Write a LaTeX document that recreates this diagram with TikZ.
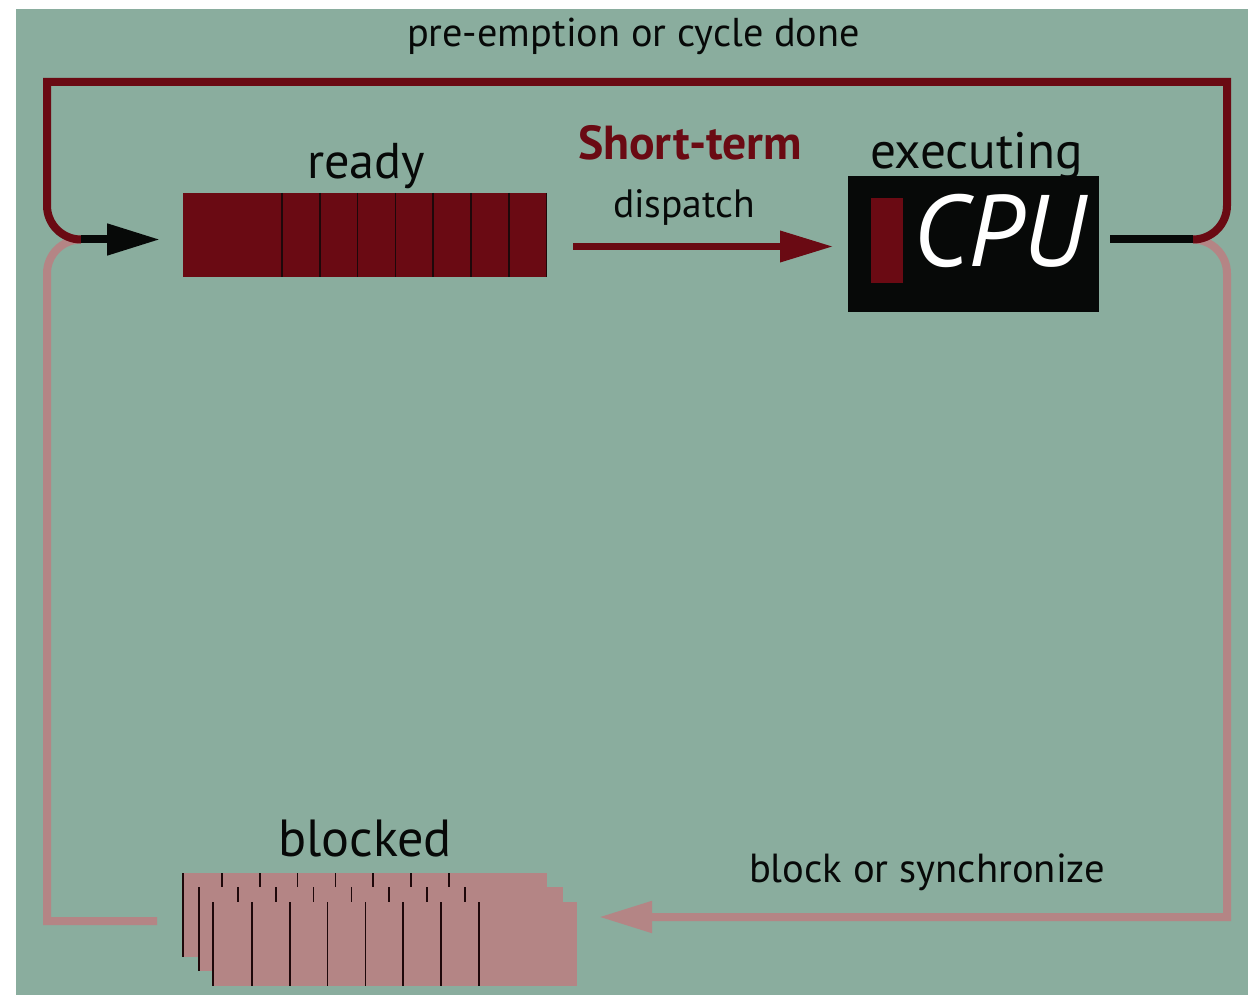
\documentclass[tikz,border=0pt]{standalone}
\usepackage{fontspec}
\setmainfont{PT Sans}
\usepackage{graphicx}
\usetikzlibrary{arrows.meta}
\definecolor{bg}{RGB}{138,173,158}
\definecolor{dred}{RGB}{106,10,19}
\definecolor{pinkq}{RGB}{180,133,133}
\definecolor{blk}{RGB}{7,9,8}
\definecolor{divc}{RGB}{30,8,10}
\newcommand\fitw[2]{\resizebox{#1}{!}{#2}}
\begin{document}
\begin{tikzpicture}[x=1pt,y=-1pt,
  lbl/.style={inner sep=0pt, outer sep=0pt, anchor=base west, text=blk, font=\fontsize{36}{43}\selectfont},
  qbox/.style={inner sep=0pt, outer sep=0pt, anchor=north west, minimum width=364pt, minimum height=84pt},
  readyq/.style={qbox, fill=dred},
  blockq/.style={qbox, fill=pinkq},
  divider/.style={draw=divc, line width=1.6pt},
  edgeline/.style={draw=divc, line width=2.2pt},
  loopred/.style={draw=dred, line width=8pt},
  looppink/.style={draw=pinkq, line width=8pt},
  blackline/.style={draw=blk, line width=8pt},
  tip/.style={-{Triangle[length=53pt,width=30pt]}}
]
\useasboundingbox (0,0) rectangle (1248,995);
\fill[bg] (16,9) rectangle (1248,995);

% ready queue
\node[readyq] (ready) at (183,193) {};
\foreach \i in {0,...,6} \draw[divider] ({282+37.8*\i},193) -- ++(0,84);
\draw[divider] (546.5,193) -- ++(0,84);

% CPU
\node[inner sep=0pt, outer sep=0pt, anchor=north west, fill=blk, minimum width=251pt, minimum height=136pt] (cpu) at (848,176) {};
\node[inner sep=0pt, outer sep=0pt, anchor=north west, fill=dred, minimum width=32pt, minimum height=85pt] (core) at (871,198) {};
\node[lbl, text=white] (cpulbl) at (913,267) {\fitw{172pt}{\itshape CPU}};

% blocked queues
\foreach \n/\x/\y in {1/183/873, 2/199/887, 3/213/902} {
  \node[blockq] (blk\n) at (\x,\y) {};
  \draw[edgeline] (blk\n.north west) -- (blk\n.south west);
  \foreach \i in {0,...,6} \draw[divider] ({\x+39+37.8*\i},\y) -- ++(0,84);
}

% labels
\node[lbl] (lpre) at (407,47) {\fitw{453pt}{pre-emption or cycle done}};
\node[lbl] (lready) at (307,179) {\fitw{118pt}{ready}};
\node[lbl, text=dred] (lshort) at (578,160) {\fitw{224pt}{\bfseries Short-term}};
\node[lbl] (ldisp) at (613,218) {\fitw{142pt}{dispatch}};
\node[lbl] (lexec) at (870,169) {\fitw{213pt}{executing}};
\node[lbl] (lblocked) at (278,856) {\fitw{174pt}{blocked}};
\node[lbl] (lblock) at (749,882) {\fitw{356pt}{block or synchronize}};

% connector coordinates
\coordinate (cpuout) at (1193,239.5);
\coordinate (cpuR) at (1110,239.5);
\coordinate (readyin) at (81,239.5);
\coordinate (pinkend) at (157,921);

% dispatch
\draw[draw=dred, line width=7pt, -{Triangle[length=53pt,width=30pt]}, shorten <=26pt, shorten >=15pt]
  ([yshift=-11.5pt]ready.east) -- ([yshift=-11.5pt]ready.east -| cpu.west);

% pink loop (block / wake-up)
\draw[looppink, tip, shorten >=22pt] (cpuout) [rounded corners=34pt] -| (1227,400) [sharp corners] -- (1227,917) -- (blk3.east |- 0,917);
\draw[looppink] (pinkend) -| (47,500) [rounded corners=34pt] |- (readyin);

% red loop (pre-emption)
\draw[loopred] (cpuout) [rounded corners=34pt] -| (1227,150) [sharp corners] -- (1227,82) -- (47,82) -- (47,150) [rounded corners=34pt] |- (readyin);

% black stubs
\draw[blackline] (cpuR) -- (cpuout);
\draw[blackline, tip, shorten >=23pt] (readyin) -- (readyin -| ready.west);
\end{tikzpicture}
\end{document}
